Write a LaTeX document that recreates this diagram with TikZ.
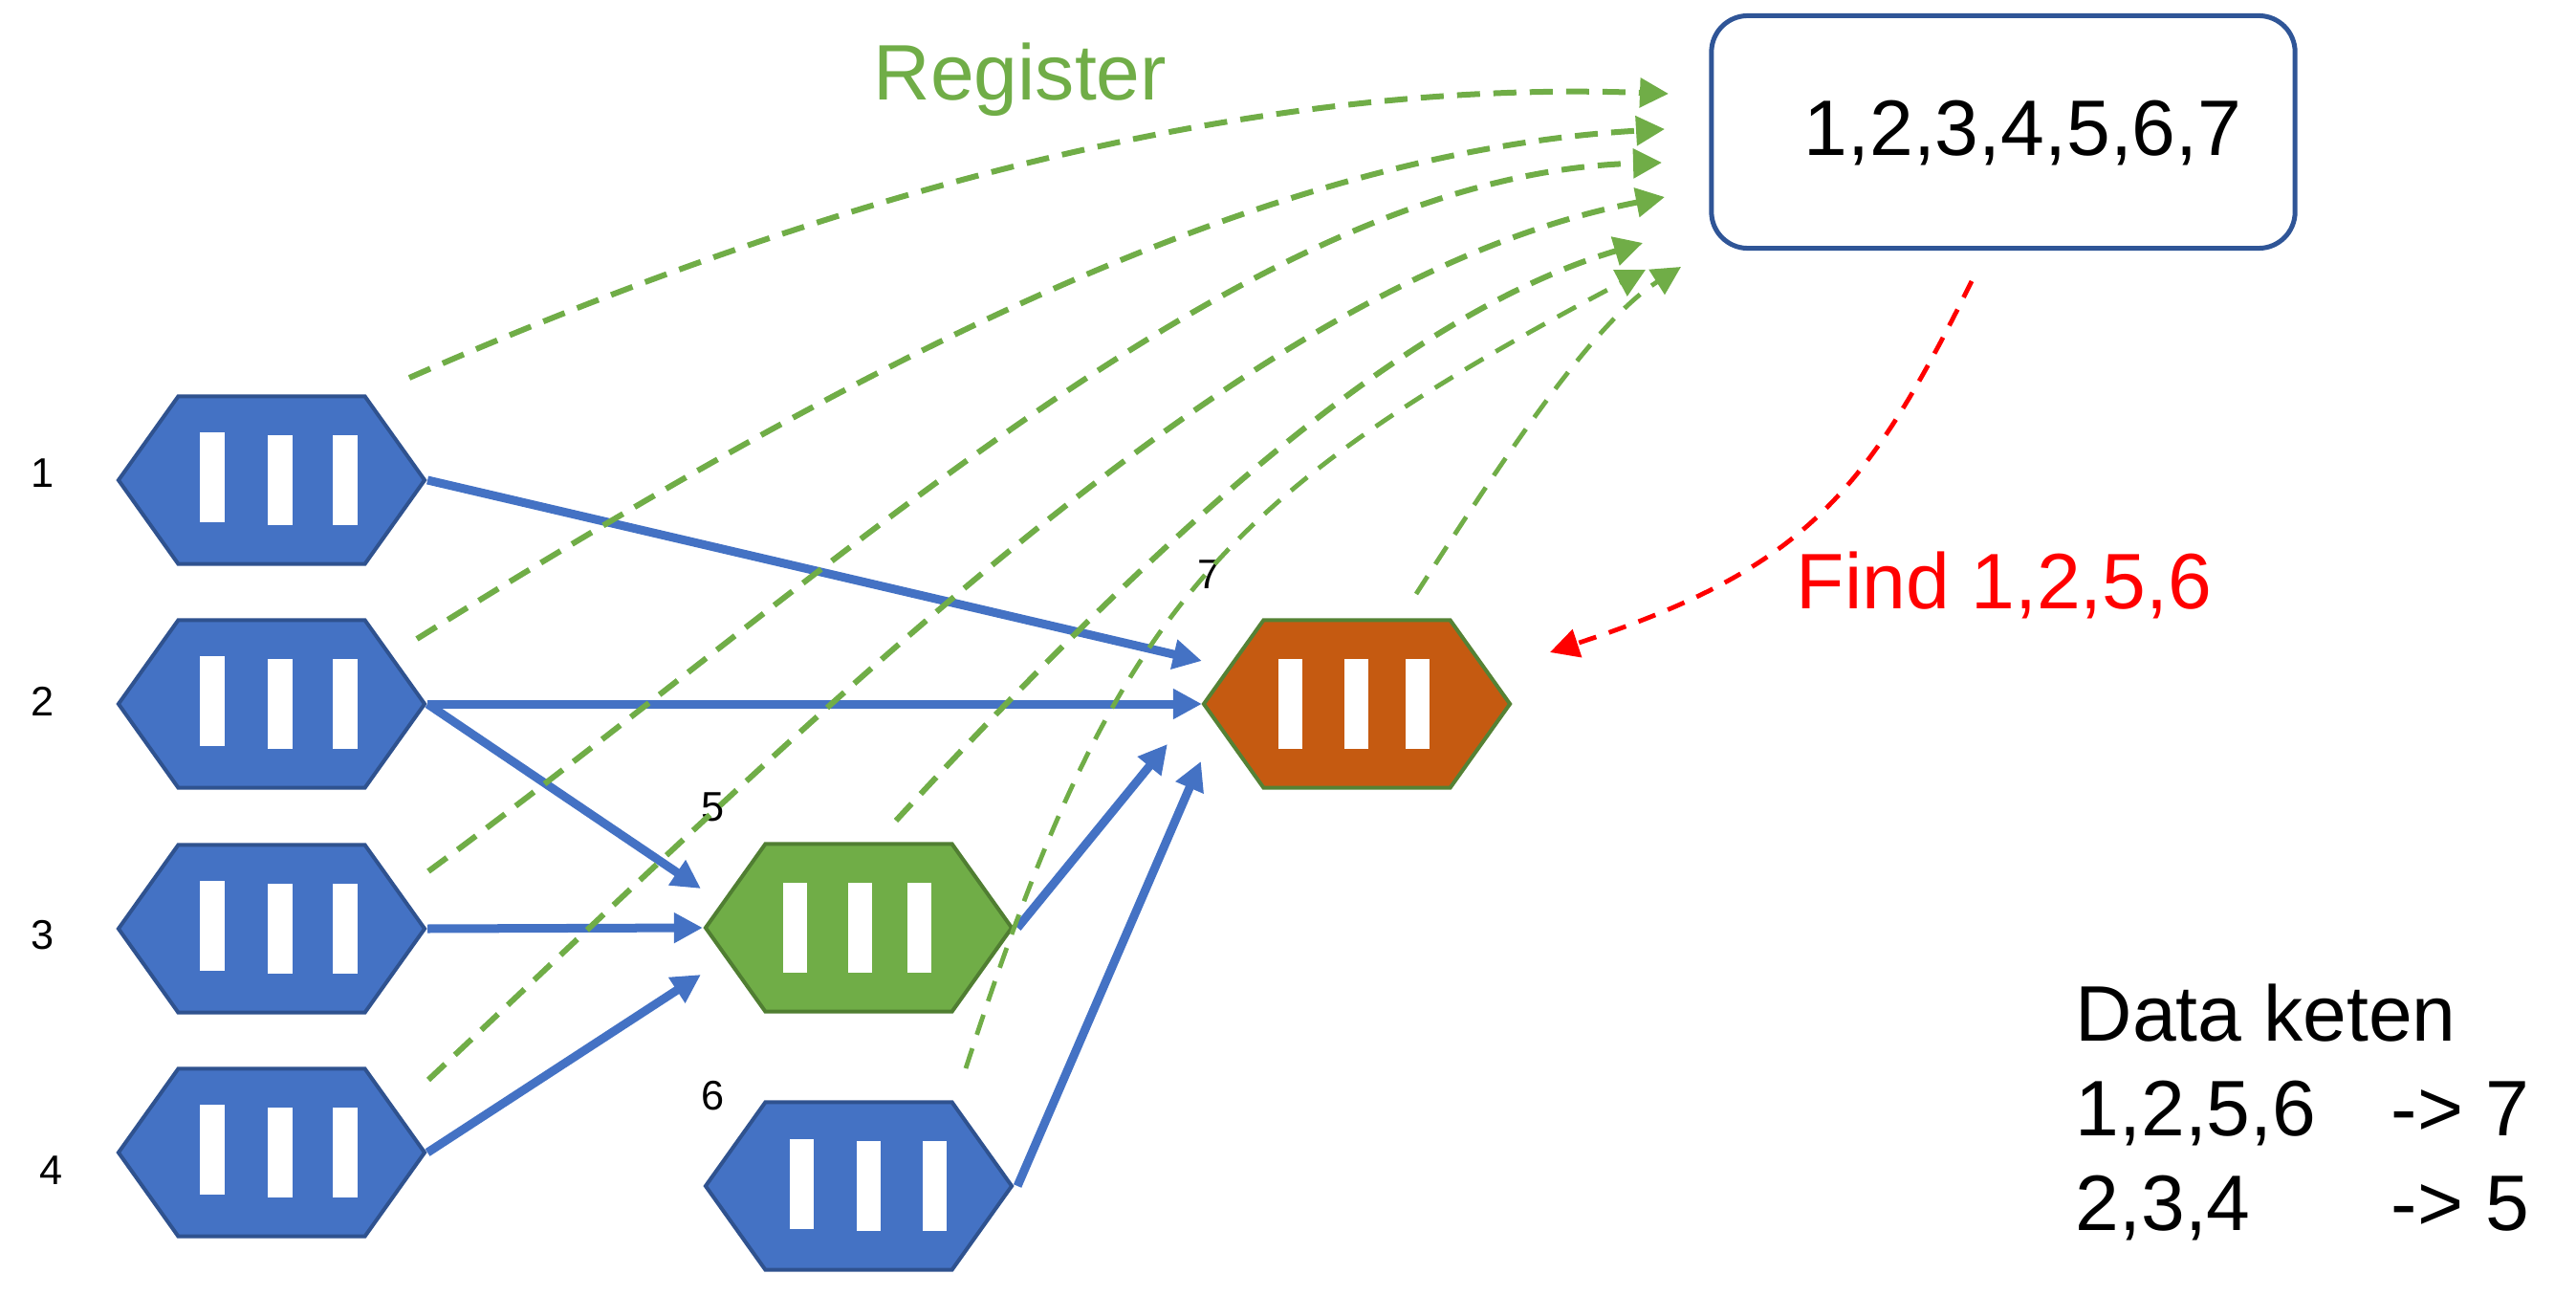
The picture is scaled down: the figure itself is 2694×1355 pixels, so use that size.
\documentclass[tikz,border=0pt]{standalone}
\usepackage{fontspec}
\setmainfont{Liberation Sans}
\usetikzlibrary{arrows.meta,shapes.symbols}

\definecolor{hexblue}{HTML}{4472C4}
\definecolor{hexblueline}{HTML}{2F528F}
\definecolor{hexgreen}{HTML}{70AD47}
\definecolor{hexgreenline}{HTML}{507E32}
\definecolor{hexorange}{HTML}{C55A11}
\definecolor{hexorangeline}{HTML}{548235}
\definecolor{storeline}{HTML}{2F5597}

% three white slots of a hexagon: name, x offsets, y offset of the first slot
\newcommand{\hexslots}[5]{
    \node[slot] (#1a) at ([shift={(#2,#5)}]#1.center) {};
    \node[slot] (#1b) at ([shift={(#3,0)}]#1.center) {};
    \node[slot] (#1c) at ([shift={(#4,0)}]#1.center) {};
}

\begin{document}
\begin{tikzpicture}[
        x=0.01cm, y=-0.01cm,
        hexa/.style={signal, signal to=east and west, signal pointer angle=109, minimum width=3.2cm, minimum height=1.75cm, inner sep=0pt, outer sep=0pt, line width=0.04cm},
        bluehex/.style={hexa, fill=hexblue, draw=hexblueline},
        slot/.style={fill=white, minimum width=0.25cm, minimum height=0.93cm, inner sep=0pt},
        num/.style={inner sep=0pt, font=\fontsize{12.3}{14}\selectfont},
        bigtext/.style={inner sep=0pt, font=\fontsize{23.4}{28.2}\selectfont},
        flow/.style={draw=hexblue, line width=0.09cm, ->, >={Triangle[length=0.3cm, width=0.3cm]}},
        reg/.style={draw=hexgreen, line width=0.06cm, dash pattern=on 0.24cm off 0.14cm, ->, >={Triangle[length=0.3cm, width=0.3cm]}},
        regthin/.style={reg, line width=0.048cm, dash pattern=on 0.22cm off 0.15cm},
        findline/.style={draw=red, line width=0.048cm, dash pattern=on 0.19cm off 0.14cm, ->, >={Triangle[length=0.3cm, width=0.3cm]}}
    ]
        \useasboundingbox (0,0) rectangle (2694,1355);

        % Hexagons
        \node[bluehex] (h1) at (284,502) {};
        \node[bluehex] (h2) at (284,736) {};
        \node[bluehex] (h3) at (284,971) {};
        \node[bluehex] (h4) at (284,1205) {};
        \node[hexa, fill=hexgreen, draw=hexgreenline] (h5) at (898,970) {};
        \node[bluehex] (h6) at (898,1240) {};
        \node[hexa, fill=hexorange, draw=hexorangeline] (h7) at (1419,736) {};

        \hexslots{h1}{-62}{9}{77}{-3}
        \hexslots{h2}{-62}{9}{77}{-3}
        \hexslots{h3}{-62}{9}{77}{-3}
        \hexslots{h4}{-62}{9}{77}{-3}
        \hexslots{h5}{-67}{1}{63}{0}
        \hexslots{h6}{-60}{10}{79}{-2}
        \hexslots{h7}{-70}{-1}{63}{0}

        % Numbers
        \node[num] (n1) at (45,495) {1};
        \node[num] (n2) at (45,733) {2};
        \node[num] (n3) at (45,978) {3};
        \node[num] (n4) at (54,1224) {4};
        \node[num] (n5) at (746,844) {5};
        \node[num] (n6) at (746,1146) {6};
        \node[num] (n7) at (1265,601) {7};

        % Registry and texts
        \node[draw=storeline, line width=0.05cm, fill=white, rounded corners=0.38cm, minimum width=6.1cm, minimum height=2.43cm, inner sep=0pt] (store) at (2095,138) {};
        \node[bigtext, anchor=base west] (storetext) at (1886,163) {1,2,3,4,5,6,7};
        \node[bigtext, anchor=base west, text=hexgreen] (register) at (913,105) {Register};
        \node[bigtext, anchor=base west, text=red] (find) at (1878,636) {Find 1,2,5,6};
        \node[bigtext, anchor=north west, align=left] (keten) at (2170,1028) {Data keten\\\makebox[3.3cm][l]{1,2,5,6}-> 7\\\makebox[3.3cm][l]{2,3,4}-> 5};

        % Blocks to the next block
        \draw[flow] ([xshift=0.03cm]h1.east) -- ([shift={(-2,-45)}]h7.west);
        \draw[flow] ([xshift=0.03cm]h2.east) -- ([shift={(-2,0)}]h7.west);
        \draw[flow] ([xshift=0.03cm]h2.east) -- ([shift={(-5,-41)}]h5.west);
        \draw[flow] ([xshift=0.03cm]h3.east) -- ([shift={(-3,0)}]h5.west);
        \draw[flow] ([xshift=0.03cm]h4.east) -- ([shift={(-5,49)}]h5.west);
        \draw[flow] ([xshift=0.06cm]h5.east) -- ([shift={(-38,42)}]h7.west);
        \draw[flow] ([xshift=0.06cm]h6.east) -- ([shift={(-3,60)}]h7.west);

        % Register lines
        \coordinate (r1) at (428,395);
        \coordinate (r2) at (436,668);
        \coordinate (r3) at (448,911);
        \coordinate (r4) at (448,1129);
        \coordinate (r5) at (937,858);
        \coordinate (r6) at (1010,1117);
        \coordinate (r7) at (1481,621);
        \coordinate (t1) at (1745,98);
        \coordinate (t2) at (1741,135);
        \coordinate (t3) at (1738,170);
        \coordinate (t4) at (1741,206);
        \coordinate (t5) at (1718,254);
        \coordinate (t6) at (1721,282);
        \coordinate (t7) at (1758,279);
        \draw[reg] (r1) .. controls (867,203) and (1306,82) .. (t1);
        \draw[reg] (r2) .. controls (871,397) and (1306,160) .. (t2);
        \draw[reg] (r3) .. controls (878,595) and (1308,182) .. (t3);
        \draw[reg] (r4) .. controls (879,724) and (1310,289) .. (t4);
        \draw[reg] (r5) .. controls (1197,576) and (1458,331) .. (t5);
        \draw[regthin] (r6) .. controls (1165,640) and (1270,520) .. (t6);
        \draw[regthin] (r7) .. controls (1573,478) and (1666,337) .. (t7);

        % Find line
        \coordinate (f1) at (2062,294);
        \coordinate (f2) at (1621,682);
        \draw[findline] (f1) .. controls (1950,520) and (1885,595) .. (f2);
    \end{tikzpicture}
\end{document}
